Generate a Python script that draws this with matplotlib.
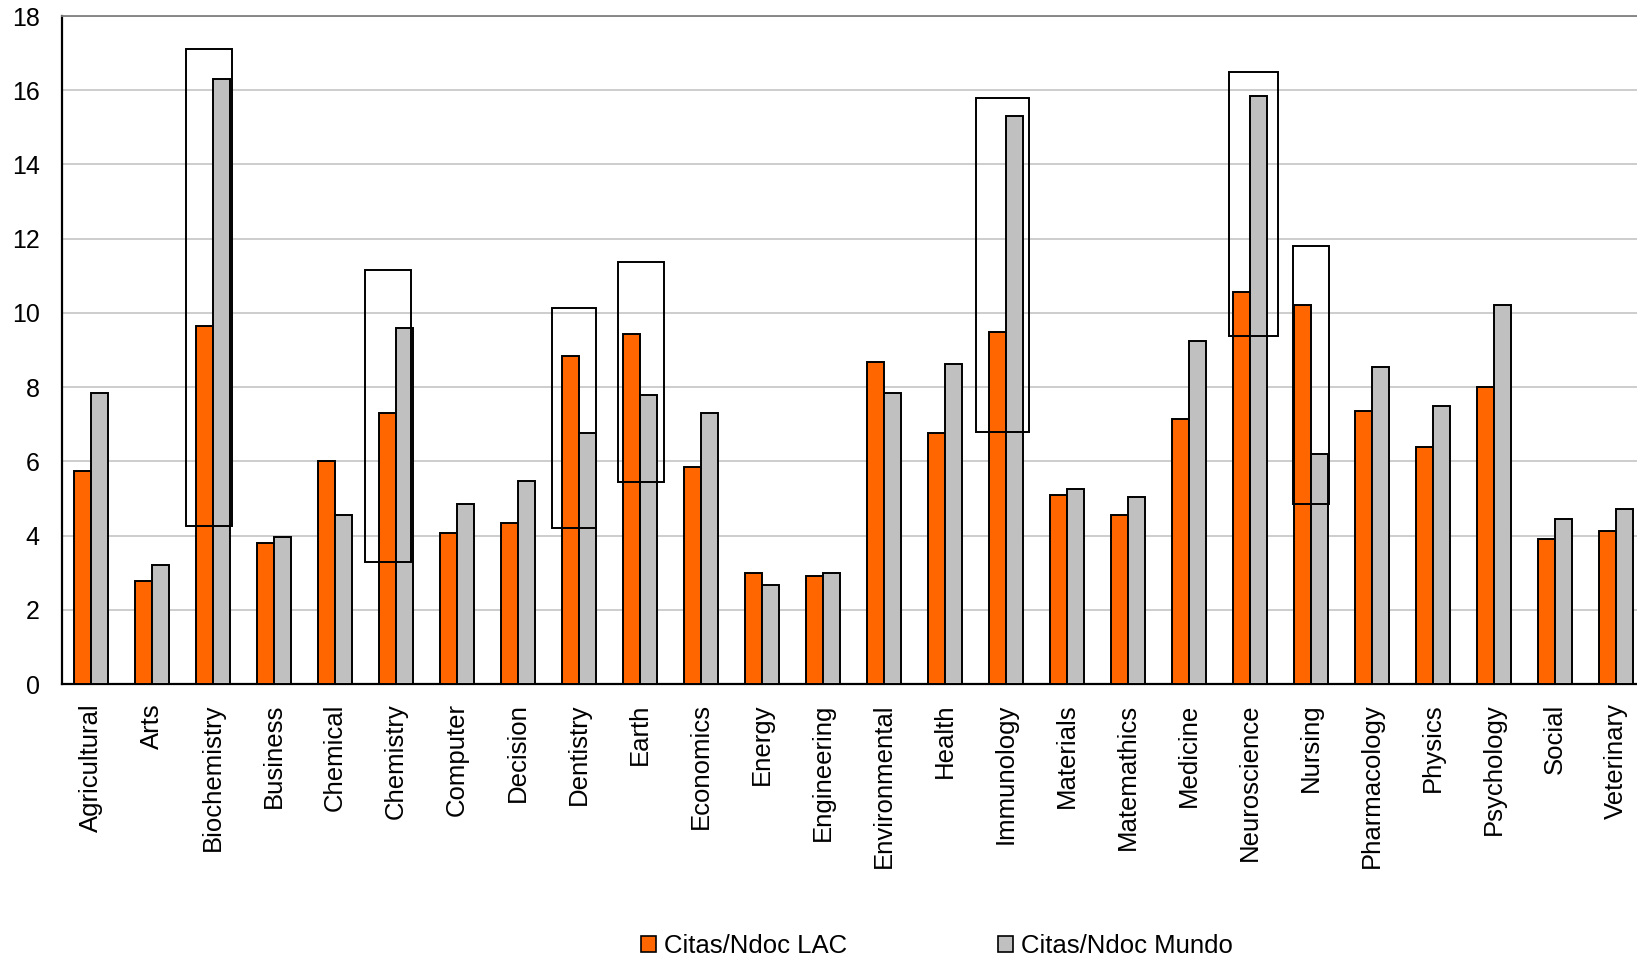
import matplotlib
matplotlib.use("Agg")
import matplotlib.pyplot as plt
from matplotlib.patches import Rectangle, Patch
import numpy as np

plt.rcParams['font.family'] = ['Liberation Sans', 'DejaVu Sans']

categories = ["Agricultural", "Arts", "Biochemistry", "Business", "Chemical", "Chemistry",
              "Computer", "Decision", "Dentistry", "Earth", "Economics", "Energy",
              "Engineering", "Environmental", "Health", "Immunology", "Materials",
              "Matemathics", "Medicine", "Neuroscience", "Nursing", "Pharmacology",
              "Physics", "Psychology", "Social", "Veterinary"]
lac = [5.73, 2.78, 9.66, 3.79, 6.01, 7.30, 4.07, 4.33, 8.85, 9.44, 5.84, 2.98,
       2.92, 8.68, 6.77, 9.49, 5.08, 4.55, 7.13, 10.56, 10.20, 7.36, 6.38, 8.00,
       3.90, 4.13]
mundo = [7.84, 3.20, 16.29, 3.96, 4.55, 9.60, 4.86, 5.48, 6.77, 7.78, 7.30, 2.67,
         2.98, 7.84, 8.62, 15.31, 5.25, 5.03, 9.24, 15.84, 6.21, 8.54, 7.50, 10.20,
         4.44, 4.72]
series_names = ["Citas/Ndoc LAC", "Citas/Ndoc Mundo"]
yticks = [0, 2, 4, 6, 8, 10, 12, 14, 16, 18]

# highlight boxes: category, left offset, right offset, bottom value, top value
hl_cats = ["Biochemistry", "Chemistry", "Dentistry", "Earth", "Immunology", "Neuroscience", "Nursing"]
hl_left = [-0.44, -0.50, -0.44, -0.36, -0.49, -0.34, -0.29]
hl_right = [0.32, 0.24, 0.28, 0.39, 0.38, 0.46, 0.29]
hl_bottom = [4.27, 3.29, 4.21, 5.45, 6.80, 9.38, 4.86]
hl_top = [17.11, 11.15, 10.14, 11.38, 15.79, 16.50, 11.80]

ORANGE = "#FF6600"
GRAY = "#C0C0C0"

fig = plt.figure(figsize=(16.37, 9.59), dpi=100)
ax = fig.add_axes([62 / 1637, 275 / 959, 1584.5 / 1637, 668 / 959])

x = np.arange(len(categories))
w = 0.285
ax.bar(x - w / 2, lac, width=w, color=ORANGE, edgecolor="black", linewidth=1.4, zorder=3)
ax.bar(x + w / 2, mundo, width=w, color=GRAY, edgecolor="black", linewidth=1.4, zorder=3)

for c, l, r, b, t in zip(hl_cats, hl_left, hl_right, hl_bottom, hl_top):
    i = categories.index(c)
    ax.add_patch(Rectangle((i + l, b), r - l, t - b, fill=False, edgecolor="black",
                           linewidth=1.4, zorder=4))

ax.set_xlim(-0.475, 25.5)
ax.set_ylim(0, 18)
ax.set_yticks(yticks)
ax.set_yticklabels([str(v) for v in yticks], fontsize=18)
ax.set_xticks(x)
ax.set_xticklabels(categories, rotation=90, fontsize=18.5, va="top", ha="center")
ax.tick_params(axis="x", length=0, pad=14)
ax.tick_params(axis="y", length=0, pad=16)
ax.yaxis.grid(True, color="#C0C0C0", linewidth=1.1, zorder=0)
ax.set_axisbelow(True)
ax.spines["left"].set_color("black")
ax.spines["left"].set_linewidth(1.6)
ax.spines["bottom"].set_color("black")
ax.spines["bottom"].set_linewidth(1.6)
ax.spines["top"].set_color("#808080")
ax.spines["top"].set_linewidth(1.3)
ax.spines["right"].set_visible(False)

handles = [Patch(facecolor=ORANGE, edgecolor="black", linewidth=1.2),
           Patch(facecolor=GRAY, edgecolor="black", linewidth=1.2)]
fig.legend(handles, series_names, loc="center", bbox_to_anchor=(937 / 1637, 13 / 959),
           ncol=2, frameon=False, fontsize=18.5, handlelength=0.57, handleheight=0.6,
           handletextpad=0.3, columnspacing=5.9, borderpad=0, borderaxespad=0)

fig.savefig("out.png", dpi=100)
